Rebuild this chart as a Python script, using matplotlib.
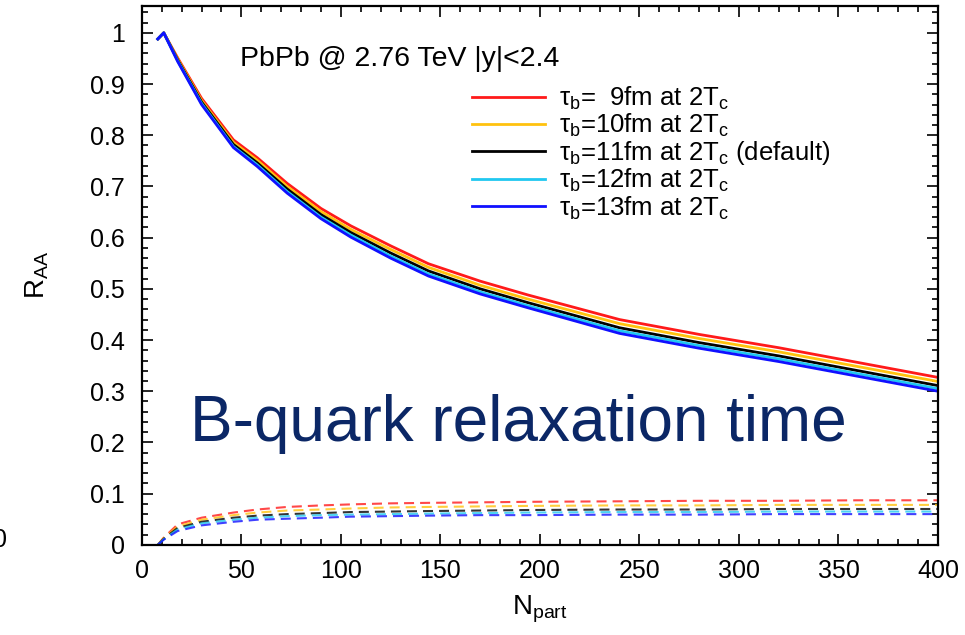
import numpy as np
import matplotlib
matplotlib.use("Agg")
import matplotlib.pyplot as plt
from matplotlib.ticker import MultipleLocator, FuncFormatter

plt.rcParams['font.family'] = ['Liberation Sans', 'DejaVu Sans']
plt.rcParams['mathtext.fontset'] = 'custom'
plt.rcParams['mathtext.rm'] = 'Liberation Sans'
plt.rcParams['mathtext.default'] = 'regular'

# Npart points of the calculation
npart = [8, 11, 18, 30, 46, 58, 73, 90, 105, 125, 144, 170, 194, 240, 280, 320, 360, 400]

# R_AA, solid curves
raa_9 = [0.988, 1.000, 0.951, 0.872, 0.791, 0.756, 0.706, 0.657, 0.623, 0.584, 0.549, 0.515, 0.488, 0.440, 0.411, 0.385, 0.356, 0.327]
raa_10 = [0.988, 1.000, 0.949, 0.868, 0.786, 0.751, 0.700, 0.651, 0.616, 0.577, 0.542, 0.507, 0.480, 0.432, 0.403, 0.377, 0.348, 0.319]
raa_11 = [0.988, 1.000, 0.947, 0.865, 0.782, 0.746, 0.695, 0.645, 0.610, 0.570, 0.535, 0.500, 0.473, 0.424, 0.395, 0.369, 0.340, 0.311]
raa_12 = [0.988, 1.000, 0.945, 0.862, 0.778, 0.742, 0.690, 0.640, 0.605, 0.564, 0.529, 0.494, 0.467, 0.418, 0.389, 0.363, 0.334, 0.305]
raa_13 = [0.988, 1.000, 0.944, 0.860, 0.776, 0.739, 0.687, 0.637, 0.601, 0.560, 0.525, 0.490, 0.463, 0.413, 0.384, 0.358, 0.329, 0.300]

# dashed curves near zero
low_9 = [0.0, 0.014, 0.040, 0.053, 0.063, 0.069, 0.074, 0.077, 0.079, 0.081, 0.082, 0.083, 0.084, 0.085, 0.086, 0.086, 0.087, 0.087]
low_10 = [0.0, 0.013, 0.036, 0.049, 0.058, 0.063, 0.067, 0.069, 0.071, 0.073, 0.074, 0.075, 0.076, 0.077, 0.077, 0.078, 0.078, 0.078]
low_11 = [0.0, 0.012, 0.033, 0.045, 0.053, 0.057, 0.060, 0.062, 0.064, 0.065, 0.066, 0.067, 0.068, 0.069, 0.069, 0.070, 0.070, 0.070]
low_12 = [0.0, 0.011, 0.030, 0.042, 0.049, 0.053, 0.056, 0.058, 0.059, 0.060, 0.061, 0.062, 0.063, 0.064, 0.064, 0.065, 0.065, 0.065]
low_13 = [0.0, 0.010, 0.027, 0.038, 0.045, 0.049, 0.051, 0.053, 0.055, 0.056, 0.057, 0.058, 0.058, 0.059, 0.059, 0.060, 0.060, 0.060]

labels = [r'$\tau_b$=  9fm at 2T$_c$',
          r'$\tau_b$=10fm at 2T$_c$',
          r'$\tau_b$=11fm at 2T$_c$ (default)',
          r'$\tau_b$=12fm at 2T$_c$',
          r'$\tau_b$=13fm at 2T$_c$']
colors = ['#ff1a1a', '#ffc20e', '#000000', '#20c8f0', '#1010ff']
solid = [raa_9, raa_10, raa_11, raa_12, raa_13]
dashed = [low_9, low_10, low_11, low_12, low_13]

fig = plt.figure(figsize=(9.65, 6.35), dpi=100)
ax = fig.add_axes([0.147, 0.142, 0.825, 0.849])

for y, c, lab in zip(solid, colors, labels):
    ax.plot(npart, y, color=c, lw=2.0, label=lab)
for y, c in zip(dashed, colors):
    ax.plot(npart, y, color=c, lw=1.5, alpha=0.8, dashes=(4.8, 2.9))

ax.set_xlim(0, 400)
ax.set_ylim(0, 1.053)
ax.xaxis.set_major_locator(MultipleLocator(50))
ax.xaxis.set_minor_locator(MultipleLocator(10))
ax.yaxis.set_major_locator(MultipleLocator(0.1))
ax.yaxis.set_minor_locator(MultipleLocator(0.02))
ax.yaxis.set_major_formatter(FuncFormatter(lambda v, p: '%g' % round(v, 2)))
ax.tick_params(which='both', direction='in', top=True, right=True, labelsize=18, width=1.2)
ax.tick_params(which='major', length=8)
ax.tick_params(axis='y', which='major', pad=12)
ax.tick_params(axis='x', which='major', pad=10)
ax.tick_params(which='minor', length=4)
for s in ax.spines.values():
    s.set_linewidth(1.6)

ax.set_xlabel('N$_{part}$', fontsize=20, labelpad=8)
ax.set_ylabel('R$_{AA}$', fontsize=20, labelpad=28)

ax.text(0.123, 0.902, 'PbPb @ 2.76 TeV |y|<2.4', transform=ax.transAxes, fontsize=20.5, va='center')
ax.text(0.06, 0.225, 'B-quark relaxation time', transform=ax.transAxes, fontsize=46,
        color='#0b2766', va='center')

leg = ax.legend(loc='upper left', bbox_to_anchor=(0.398, 0.877), frameon=False, fontsize=18.5,
                handlelength=2.84, handletextpad=0.55, labelspacing=0.0, borderpad=0)

fig.text(0.0, 1 - 540 / 635, '0', fontsize=18, ha='center', va='center')

fig.savefig('out.png', dpi=100)
